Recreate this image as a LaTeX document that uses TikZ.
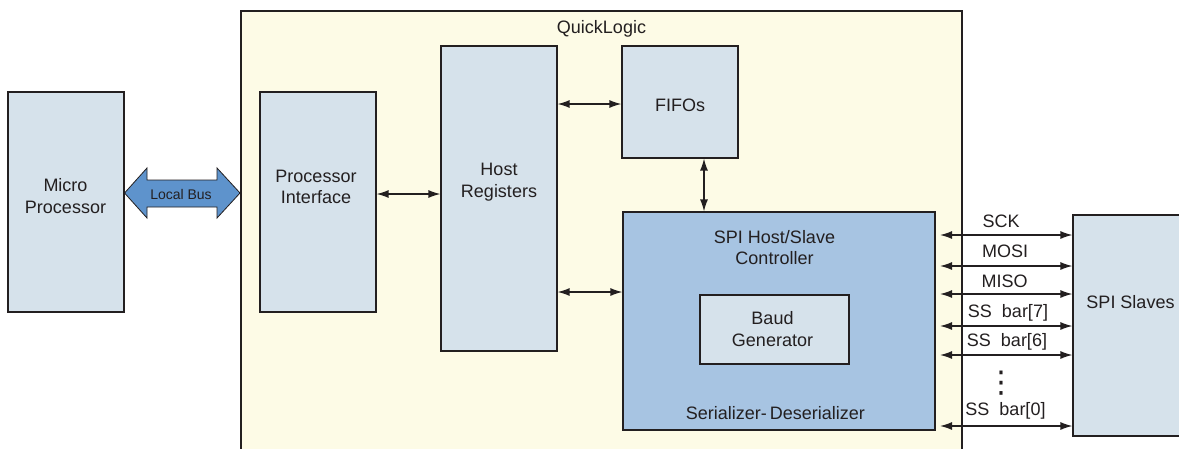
\documentclass[tikz,border=0pt]{standalone}
\usepackage{fontspec}
\setmainfont{Liberation Sans}
\newfontfamily\symfont{DejaVu Sans}
\usetikzlibrary{arrows.meta}
\definecolor{cream}{HTML}{FDFBE6}
\definecolor{paleblue}{HTML}{D6E2EB}
\definecolor{midblue}{HTML}{A7C4E2}
\definecolor{busblue}{HTML}{5E93CC}
\definecolor{ink}{HTML}{231F20}
\tikzset{
  blk/.style={draw=ink, line width=1.1pt, fill=paleblue, inner sep=0pt},
  txt/.style={font=\fontsize{18}{21.5}\selectfont, text=ink, align=center, inner sep=0pt},
  sig/.style={font=\fontsize{18}{21.5}\selectfont, text=ink, inner sep=0pt, anchor=base},
  biarrow/.style={draw=ink, line width=1.4pt, {Latex[length=12pt,width=8pt]}-{Latex[length=12pt,width=8pt]}},
}
\begin{document}
\begin{tikzpicture}[x=1pt, y=-1pt]
\useasboundingbox (0,0) rectangle (1179,448);
\fill[white] (0,0) rectangle (1179,448);

% FPGA region
\draw[ink, line width=1.1pt, fill=cream] (241,11) rectangle (962,470);
\node[txt, anchor=base] (ql) at (601.5,33) {QuickLogic};

% functional blocks
\node[blk, minimum width=116pt, minimum height=220pt] (mp) at (66,202) {};
\node[blk, minimum width=116pt, minimum height=220pt] (pi) at (318,202) {};
\node[blk, minimum width=116pt, minimum height=305pt] (hr) at (499,198.5) {};
\node[blk, minimum width=116pt, minimum height=112pt] (ff) at (680,102) {};
\node[blk, fill=midblue, minimum width=312pt, minimum height=218pt] (ctl) at (779,321) {};
\node[blk, minimum width=149pt, minimum height=69pt] (bg) at (774.5,329.5) {};
\node[blk, minimum width=120pt, minimum height=221pt] (sl) at (1133,325.5) {};

% block captions
\node[txt] (mpt) at (65.5,196) {Micro\\Processor};
\node[txt] (pit) at (316,187) {Processor\\Interface};
\node[txt] (hrt) at (499,182) {Host\\Registers};
\node[txt, anchor=base] (fft) at (680,111) {FIFOs};
\node[txt] (ctlt) at (774.5,247.5) {SPI Host/Slave\\Controller};
\node[txt] (bgt) at (772.5,329) {Baud\\Generator};
\node[txt, anchor=base] (sdt) at (775.5,419) {Serializer-\,Deserializer};
\node[txt, anchor=base] (slt) at (1130.5,308) {SPI Slaves};

% local bus
\draw[ink, line width=0.8pt, fill=busblue]
  (mp.east |- 0,193) -- (147,168) -- (147,180) -- (217,180) -- (217,168)
  -- (240,193) -- (217,218) -- (217,207) -- (147,207) -- (147,218) -- cycle;
\node[font=\fontsize{14}{16}\selectfont, text=ink, inner sep=0pt] (bus) at (181,194) {Local Bus};

% internal connections
\draw[biarrow] (pi.east |- 0,194) -- (hr.west |- 0,194);
\draw[biarrow] (hr.east |- 0,104) -- (ff.west |- 0,104);
\draw[biarrow] (hr.east |- 0,292) -- (ctl.west |- 0,292);
\draw[biarrow] (ff.south -| 704,0) -- (ctl.north -| 704,0);

% serial interface
\coordinate (po) at (940,0);
\foreach \y/\n in {235/sck,266/mosi,294/miso,326/ssa,355/ssb,426/ssc}
  \draw[biarrow] (po |- 0,\y) -- (sl.west |- 0,\y);
\node[sig] (lsck) at (1001,227) {SCK};
\node[sig] (lmosi) at (1005,257) {MOSI};
\node[sig] (lmiso) at (1004.5,287) {MISO};
\node[sig] (lss7) at (1008,317) {SS\ \ bar[7]};
\node[sig] (lss6) at (1007,346) {SS\ \ bar[6]};
\node[text=ink, inner sep=0pt, font=\symfont\fontsize{30}{30}\selectfont] (ldots) at (1001,383) {⋮};
\node[sig] (lss0) at (1005.5,415) {SS\ \ bar[0]};
\end{tikzpicture}
\end{document}
